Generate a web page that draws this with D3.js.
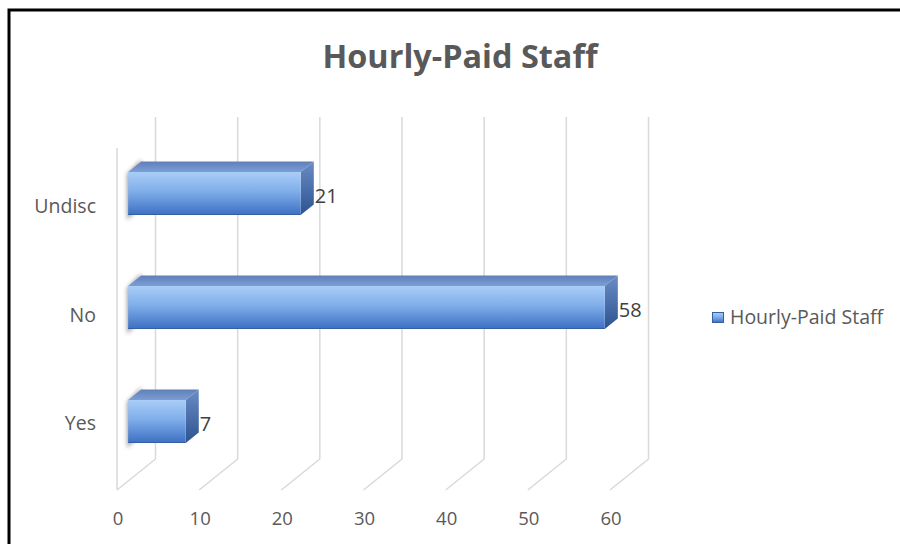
<!DOCTYPE html>
<html>
<head>
<meta charset="utf-8">
<script src="https://cdn.jsdelivr.net/npm/d3@7"></script>
<style>
html,body{margin:0;padding:0;background:#fff;}
svg{display:block;}
text{font-family:"Open Sans","Noto Sans",sans-serif;}
</style>
</head>
<body>
<svg id="chart" width="900" height="544"></svg>
<script>
const chartTitle = "Hourly-Paid Staff";
const seriesName = "Hourly-Paid Staff";
const categories = ["Undisc", "No", "Yes"];
const values = [21, 58, 7];
const xTicks = [0, 10, 20, 30, 40, 50, 60];

const svg = d3.select("#chart");
const defs = svg.append("defs");

// gradients
const gFront = defs.append("linearGradient").attr("id","gFront").attr("x1",0).attr("y1",0).attr("x2",0).attr("y2",1);
gFront.append("stop").attr("offset","0%").attr("stop-color","#a9cdf7");
gFront.append("stop").attr("offset","45%").attr("stop-color","#80aeea");
gFront.append("stop").attr("offset","100%").attr("stop-color","#3c6fc4");
const gTop = defs.append("linearGradient").attr("id","gTop").attr("x1",0).attr("y1",1).attr("x2",0).attr("y2",0);
gTop.append("stop").attr("offset","0%").attr("stop-color","#7c9ed6");
gTop.append("stop").attr("offset","100%").attr("stop-color","#5e7fb8");
const gSide = defs.append("linearGradient").attr("id","gSide").attr("x1",0).attr("y1",0).attr("x2",0).attr("y2",1);
gSide.append("stop").attr("offset","0%").attr("stop-color","#6b8cc6");
gSide.append("stop").attr("offset","100%").attr("stop-color","#2c5390");
const blur = defs.append("filter").attr("id","blur").attr("x","-50%").attr("y","-50%").attr("width","200%").attr("height","200%");
blur.append("feGaussianBlur").attr("stdDeviation",2.2);

// frame border
svg.append("rect").attr("x",9).attr("y",10).attr("width",1000).attr("height",1000)
  .attr("fill","#fff").attr("stroke","#000").attr("stroke-width",3);

// title
svg.append("text").attr("x",460).attr("y",68).attr("text-anchor","middle")
  .attr("font-size",32).attr("font-weight","bold").attr("fill","#595959")
  .attr("textLength",275).attr("lengthAdjust","spacingAndGlyphs")
  .text(chartTitle);

// perspective geometry
const frontY = 490, backBottom = 459, backTop = 117;
const depthDx = 38.5, depthDy = backBottom - frontY; // -31
const x = d3.scaleLinear().domain([0, 60]).range([117, 610]);
const y = d3.scalePoint().domain(categories).range([193.5, 421.5]);
const yLab = d3.scalePoint().domain(categories).range([213, 430]);
const barH = 43;
const barFrac = 0.29, barDepthFrac = 0.34;
const bOffX = depthDx * barFrac, bOffY = depthDy * barFrac;
const dX = depthDx * barDepthFrac, dY = depthDy * barDepthFrac;

// gridlines (floor + back wall)
const grid = svg.append("g").attr("fill","none").attr("stroke","#d9d9d9").attr("stroke-width",1.5);
xTicks.forEach(t => {
  const xf = x(t);
  grid.append("path").attr("d",
    `M${xf},${frontY}L${xf+depthDx},${backBottom}L${xf+depthDx},${backTop}`);
});
// left wall front edge
grid.append("path").attr("d", `M${x(0)},${frontY}L${x(0)},${backTop - depthDy}`);

// x tick labels
svg.append("g").selectAll("text").data(xTicks).join("text")
  .attr("x", d => x(d) + 1).attr("y", 525).attr("text-anchor","middle")
  .attr("font-size",18.5).attr("fill","#595959").text(d => d);

// category labels
svg.append("g").selectAll("text").data(categories).join("text")
  .attr("x", 96).attr("y", d => yLab(d)).attr("text-anchor","end")
  .attr("font-size",19.5).attr("fill","#595959").text(d => d);

// bars
const bars = svg.append("g");
categories.forEach((c, i) => {
  const v = values[i];
  const x0 = x(0) + bOffX, x1 = x(v) + bOffX;
  const yT = y(c) - barH / 2, yB = y(c) + barH / 2;
  // shadow on left
  bars.append("path").attr("filter","url(#blur)").attr("fill","#7a7a7a").attr("opacity",0.75)
    .attr("d", `M${x0-1},${yT+2}L${x0+dX},${yT+dY-2}L${x0+dX},${yB+dY}L${x0-1},${yB+5}Z`);
  // top face
  bars.append("path").attr("fill","url(#gTop)")
    .attr("d", `M${x0},${yT}L${x0+dX},${yT+dY}L${x1+dX},${yT+dY}L${x1},${yT}Z`);
  // right face
  bars.append("path").attr("fill","url(#gSide)")
    .attr("d", `M${x1},${yT}L${x1+dX},${yT+dY}L${x1+dX},${yB+dY}L${x1},${yB}Z`);
  // front face
  bars.append("rect").attr("x", x0).attr("y", yT).attr("width", x1 - x0).attr("height", barH)
    .attr("fill","url(#gFront)");
  bars.append("line").attr("x1",x0).attr("x2",x1).attr("y1",yB-0.5).attr("y2",yB-0.5)
    .attr("stroke","#35609f").attr("stroke-width",1);
  // value label
  bars.append("text").attr("x", x1 + dX + 1).attr("y", y(c) + 9)
    .attr("font-size",20).attr("fill","#404040").text(v);
});

// legend
const lg = svg.append("g");
lg.append("rect").attr("x",712.5).attr("y",312.5).attr("width",11).attr("height",10)
  .attr("fill","url(#gFront)").attr("stroke","#35609f").attr("stroke-width",1);
lg.append("text").attr("x",730).attr("y",324).attr("font-size",19.5).attr("fill","#595959")
  .text(seriesName);
</script>
</body>
</html>
